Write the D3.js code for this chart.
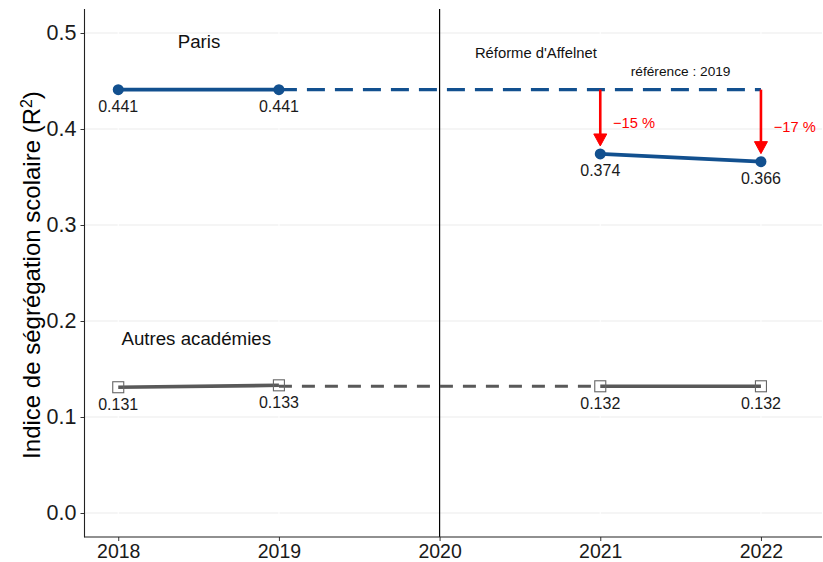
<!DOCTYPE html>
<html>
<head>
<meta charset="utf-8">
<script src="https://cdn.jsdelivr.net/npm/d3@7"></script>
<style>
  body { margin: 0; background: #fff; }
  svg { display: block; font-family: "Liberation Sans", Arial, sans-serif; }
</style>
</head>
<body>
<svg id="chart" width="823" height="562"></svg>
<script>
// ---- data ----
const years = [2018, 2019, 2021, 2022];
const parisValues = [0.441, 0.441, 0.374, 0.366];
const autresValues = [0.131, 0.133, 0.132, 0.132];
const xTicks = [2018, 2019, 2020, 2021, 2022];
const yTicks = [0.0, 0.1, 0.2, 0.3, 0.4, 0.5];
const reformYear = 2020;
const referenceYear = 2019;
const changeYears = [2021, 2022];
const changeLabels = ["\u221215 %", "\u221217 %"];
const parisRef = 0.441;
const autresRef = 0.132;

(function () {
// ---- layout ----
const svg = d3.select("#chart");
const pL = 84.5, pR = 822, pT = 9, pB = 537;
const x = d3.scaleLinear().domain([2017.79, 2022.38]).range([pL, pR]);
const y = d3.scaleLinear().domain([-0.025, 0.525]).range([pB, pT]);

const blue = "#12508f";
const grey = "#595959";
const red = "#ff0000";
const ff = "Liberation Sans, Arial, sans-serif";

// grid
const g = svg.append("g");
g.selectAll(".hg").data(yTicks).enter().append("line")
  .attr("x1", pL).attr("x2", pR)
  .attr("y1", d => y(d)).attr("y2", d => y(d))
  .attr("stroke", "#ebebeb").attr("stroke-width", 1.1);
g.selectAll(".vg").data(xTicks).enter().append("line")
  .attr("x1", d => x(d)).attr("x2", d => x(d))
  .attr("y1", pT).attr("y2", pB)
  .attr("stroke", "#ffffff").attr("stroke-width", 1.1);

// reform vertical line
svg.append("line")
  .attr("x1", x(reformYear)).attr("x2", x(reformYear))
  .attr("y1", pT).attr("y2", pB)
  .attr("stroke", "#000").attr("stroke-width", 1.2);

// axes
const yAxis = d3.axisLeft(y).tickValues(yTicks).tickFormat(d3.format(".1f")).tickSize(4).tickPadding(4);
const xAxis = d3.axisBottom(x).tickValues(xTicks).tickFormat(d3.format("d")).tickSize(4).tickPadding(3);
const ya = svg.append("g").attr("transform", `translate(${pL},0)`).call(yAxis);
const xa = svg.append("g").attr("transform", `translate(0,${pB})`).call(xAxis);
[ya, xa].forEach(a => {
  a.select(".domain").remove();
  a.selectAll(".tick line").attr("stroke", "#333").attr("stroke-width", 1);
  a.selectAll(".tick text").attr("fill", "#1a1a1a").attr("font-family", ff);
});
ya.selectAll(".tick text").attr("font-size", 21.5);
xa.selectAll(".tick text").attr("font-size", 19.5);
svg.append("line").attr("x1", pL).attr("x2", pL).attr("y1", pT).attr("y2", pB + 0.5)
  .attr("stroke", "#222").attr("stroke-width", 1.1);
svg.append("line").attr("x1", pL).attr("x2", pR).attr("y1", pB).attr("y2", pB)
  .attr("stroke", "#222").attr("stroke-width", 1.1);

// y title
svg.append("text")
  .attr("transform", `translate(40,275) rotate(-90)`)
  .attr("text-anchor", "middle").attr("font-size", 24).attr("fill", "#000")
  .html('Indice de ségrégation scolaire (R<tspan baseline-shift="super" font-size="16">2</tspan>)');

// dashed references
svg.append("line")
  .attr("x1", x(referenceYear)).attr("x2", x(2022))
  .attr("y1", y(parisRef)).attr("y2", y(parisRef))
  .attr("stroke", blue).attr("stroke-width", 3.2).attr("stroke-dasharray", "18,10");
svg.append("line")
  .attr("x1", x(referenceYear)).attr("x2", x(2021))
  .attr("y1", y(autresRef)).attr("y2", y(autresRef))
  .attr("stroke", grey).attr("stroke-width", 3).attr("stroke-dasharray", "13,10");

// data series
const pts = (vals) => years.map((yr, i) => ({ yr, v: vals[i] }));
const line = d3.line().x(d => x(d.yr)).y(d => y(d.v));
const parisPts = pts(parisValues), autresPts = pts(autresValues);
[[parisPts.slice(0, 2), blue, 3.8], [parisPts.slice(2), blue, 3.8],
 [autresPts.slice(0, 2), grey, 3.6], [autresPts.slice(2), grey, 3.6]].forEach(([d, c, w]) => {
  svg.append("path").datum(d).attr("d", line).attr("fill", "none")
    .attr("stroke", c).attr("stroke-width", w);
});
svg.selectAll(".pc").data(parisPts).enter().append("circle")
  .attr("cx", d => x(d.yr)).attr("cy", d => y(d.v)).attr("r", 5.5).attr("fill", blue);
svg.selectAll(".sq").data(autresPts).enter().append("rect")
  .attr("x", d => x(d.yr) - 5.5).attr("y", d => y(d.v) - 5.5)
  .attr("width", 11).attr("height", 11)
  .attr("fill", "none").attr("stroke", "#666").attr("stroke-width", 1.1);

// value labels
const lbl = (data) => svg.selectAll(null).data(data).enter().append("text")
  .attr("x", d => x(d.yr)).attr("y", d => y(d.v) + 22.5)
  .attr("text-anchor", "middle").attr("font-size", 16).attr("fill", "#1a1a1a")
  .text(d => d3.format(".3f")(d.v));
lbl(parisPts); lbl(autresPts);

// red arrows
changeYears.forEach((yr, i) => {
  const target = parisValues[years.indexOf(yr)];
  const x0 = x(yr), y0 = y(parisRef), y1 = y(target) - 8;
  svg.append("line").attr("x1", x0).attr("x2", x0).attr("y1", y0).attr("y2", y1 - 10)
    .attr("stroke", red).attr("stroke-width", 2.6);
  svg.append("path")
    .attr("d", `M${x0 - 6.5},${y1 - 12} L${x0 + 6.5},${y1 - 12} L${x0},${y1} Z`)
    .attr("fill", red).attr("stroke", red).attr("stroke-width", 1);
  svg.append("text").attr("x", x0 + 12.7).attr("y", y(parisRef) + 38 + i * 4)
    .attr("font-size", 14.7).attr("fill", red).text(changeLabels[i]);
});

// annotations
svg.append("text").attr("x", x(2018.37)).attr("y", 48).attr("font-size", 18.7).attr("fill", "#111").text("Paris");
svg.append("text").attr("x", x(2018.02)).attr("y", 345).attr("font-size", 18.7).attr("fill", "#111").text("Autres académies");
svg.append("text").attr("x", x(2020.22)).attr("y", 58).attr("font-size", 14.8).attr("fill", "#111").text("Réforme d'Affelnet");
svg.append("text").attr("x", x(2021.19)).attr("y", 75.5).attr("font-size", 13.7).attr("fill", "#111").text("référence : 2019");
})();
</script>
</body>
</html>
